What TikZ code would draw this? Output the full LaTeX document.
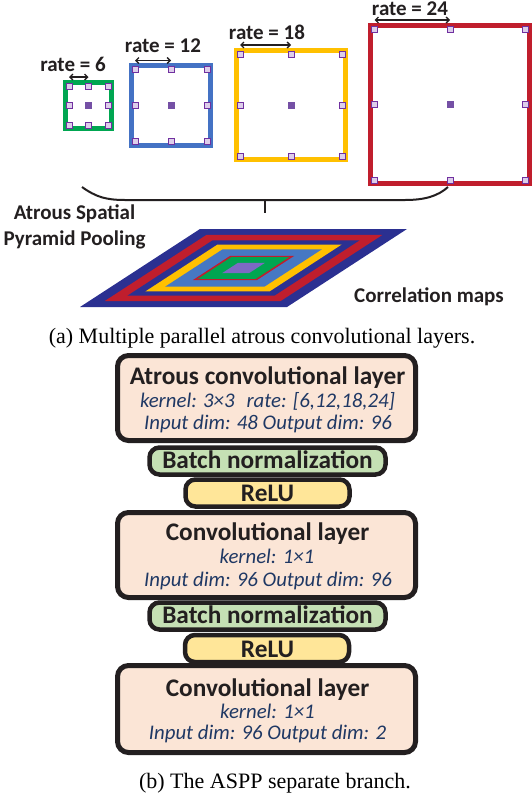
\documentclass[tikz,border=0pt]{standalone}
\usepackage{fontspec}
\setmainfont{Liberation Serif}
\newfontfamily\calibri{Carlito}
\usepackage{tikz}
\usetikzlibrary{arrows.meta, positioning, calc}
\definecolor{textdark}{RGB}{35,31,32}
\definecolor{infoblue}{RGB}{31,56,100}
\definecolor{convfill}{RGB}{251,229,214}
\definecolor{normfill}{RGB}{197,224,180}
\definecolor{relufill}{RGB}{255,230,153}
\definecolor{kgreen}{RGB}{0,166,81}
\definecolor{kblue}{RGB}{68,114,196}
\definecolor{kyellow}{RGB}{255,192,0}
\definecolor{kred}{RGB}{192,30,45}
\definecolor{tapfill}{RGB}{221,206,234}
\definecolor{tapdraw}{RGB}{112,48,160}
\definecolor{tapcentre}{RGB}{117,80,165}
\definecolor{mapnavy}{RGB}{43,48,145}
\definecolor{mapblue}{RGB}{70,120,195}
\definecolor{mappurple}{RGB}{125,105,195}

\tikzset{
  kernelframe/.style={line width=5pt},
  tap/.style={draw=tapdraw, fill=tapfill, line width=0.8pt, minimum size=6pt, inner sep=0pt},
  tapmid/.style={fill=tapcentre, minimum size=7pt, inner sep=0pt},
  ratearrow/.style={{Straight Barb[length=3pt,width=6pt]}-{Straight Barb[length=3pt,width=6pt]}, line width=1.4pt, textdark},
  ratelabel/.style={font={\calibri\bfseries\fontsize{21}{25}\selectfont}, text=textdark, anchor=base, inner sep=0pt},
  sidelabel/.style={font={\calibri\bfseries\fontsize{21}{25}\selectfont}, text=textdark, align=center, inner sep=0pt},
  bracestroke/.style={line width=2pt, textdark},
  caption/.style={font=\fontsize{22}{26}\selectfont, anchor=base, inner sep=0pt},
  layerbox/.style={draw=textdark, line width=5pt, rounded corners=11pt, fill=convfill, minimum width=298pt, minimum height=85pt, inner sep=0pt},
  normbox/.style={draw=textdark, line width=4.5pt, rounded corners=10pt, fill=normfill, minimum width=236pt, minimum height=27pt, inner sep=0pt},
  relubox/.style={draw=textdark, line width=4.5pt, rounded corners=10pt, fill=relufill, minimum width=164pt, minimum height=27pt, inner sep=0pt},
  titletext/.style={font={\calibri\bfseries\fontsize{25.3}{29}\selectfont}, text=textdark, anchor=base, inner sep=0pt},
  infotext/.style={font={\calibri\itshape\fontsize{20.8}{24}\selectfont}, text=infoblue, anchor=base, inner sep=0pt}
}

% #1 name, #2 colour, #3 cx, #4 cy, #5 half spacing
\newcommand{\dilatedkernel}[5]{%
  \draw[kernelframe, draw=#2] ({#3-#5-3.8},{#4-#5-3.8}) rectangle ({#3+#5+3.8},{#4+#5+3.8});
  \foreach \i/\a in {-1/l,0/c,1/r}
    \foreach \j/\b in {-1/t,0/m,1/b}
      \node[tap] (#1\a\b) at ({#3+\i*#5},{#4+\j*#5}) {};
  \node[tapmid] (#1cm) at (#3,#4) {};
  \draw[ratearrow] ([yshift=9pt]#1lt.center) -- ([yshift=9pt]#1ct.center);
}

\begin{document}
\begin{tikzpicture}[x=1pt,y=-1pt]
  \useasboundingbox (0,0) rectangle (532,798);

  % atrous kernels with growing rates
  \dilatedkernel{six}{kgreen}{88.5}{105.5}{19.5}
  \dilatedkernel{twelve}{kblue}{171}{105.5}{36}
  \dilatedkernel{eighteen}{kyellow}{291}{105}{51}
  \dilatedkernel{twentyfour}{kred}{450}{104.5}{75.5}
  \node[ratelabel] (sixlab) at (73,71.7) {rate = 6};
  \node[ratelabel] (twelvelab) at (163,52.7) {rate = 12};
  \node[ratelabel] (eighteenlab) at (267,39.3) {rate = 18};
  \node[ratelabel] (twentyfourlab) at (410,15.7) {rate = 24};

  % brace gathering the branches
  \draw[bracestroke] (82,187) .. controls (96,197) and (106,200) .. (125,200) -- (405,200) .. controls (425,200) and (438,196) .. (448,187);
  \draw[bracestroke, line width=2.5pt] (265,200) -- (265,213);
  \node[sidelabel] (aspp) at (74.5,227) {Atrous Spatial\\[1pt]Pyramid Pooling};

  % correlation maps
  \foreach \s/\c in {1/mapnavy,0.85/kred,0.71/mapnavy,0.60/kyellow,0.48/mapblue,0.31/kred,0.28/kgreen,0.13/mappurple}
    \fill[\c] ({243.5-163.5*\s},{268+39*\s}) -- ({243.5+43.5*\s},{268+39*\s})
      -- ({243.5+163.5*\s},{268-39*\s}) -- ({243.5-43.5*\s},{268-39*\s}) -- cycle;
  \node[ratelabel] (corr) at (429,302) {Correlation maps};
  \node[caption] (capa) at (262,343.3) {(a) Multiple parallel atrous convolutional layers.};

  % separate branch
  \node[layerbox] (atrous) at (266.5,398) {};
  \node[layerbox] (conv1) at (266.5,555) {};
  \node[layerbox, minimum height=87pt] (conv2) at (266.5,709) {};
  \node[normbox] (bn1) at (267.5,461) {};
  \node[relubox] (relu1) at (267.5,493) {};
  \node[normbox] (bn2) at (267.5,616) {};
  \node[relubox] (relu2) at (267,648.5) {};

  \node[titletext] (atrous-t) at (267.5,384) {Atrous convolutional layer};
  \node[infotext] (atrous-k) at (267.5,407) {kernel: 3×3\hspace{12pt}rate: [6,12,18,24]};
  \node[infotext] (atrous-d) at (268,429) {Input dim: 48 Output dim: 96};
  \node[titletext] (bn1-t) at (267.5,468) {Batch normalization};
  \node[titletext] (relu1-t) at (267.5,501.7) {ReLU};
  \node[titletext] (conv1-t) at (267.5,540) {Convolutional layer};
  \node[infotext] (conv1-k) at (267,563) {kernel: 1×1};
  \node[infotext] (conv1-d) at (268,586) {Input dim: 96 Output dim: 96};
  \node[titletext] (bn2-t) at (267.5,623) {Batch normalization};
  \node[titletext] (relu2-t) at (267.5,657) {ReLU};
  \node[titletext] (conv2-t) at (267.5,696) {Convolutional layer};
  \node[infotext] (conv2-k) at (267.5,718) {kernel: 1×1};
  \node[infotext] (conv2-d) at (267.5,739) {Input dim: 96 Output dim: 2};
  \node[caption] (capb) at (275,788) {(b) The ASPP separate branch.};
\end{tikzpicture}
\end{document}
